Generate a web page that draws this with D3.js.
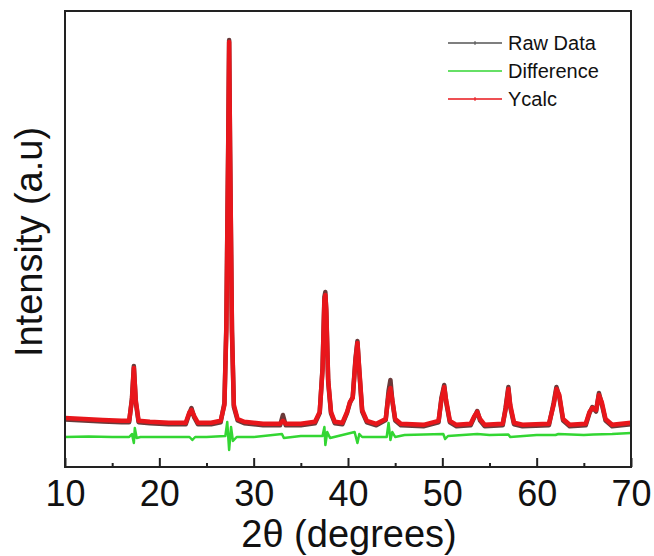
<!DOCTYPE html>
<html>
<head>
<meta charset="utf-8">
<script src="https://cdn.jsdelivr.net/npm/d3@7"></script>
<style>
  body { margin: 0; background: #fff; }
  .container { width: 654px; height: 556px; }
  text { font-family: "Liberation Sans", Arial, sans-serif; fill: #111; }
</style>
</head>
<body>
<div class="container"></div>
<script>
var WIDTH = 654, HEIGHT = 556;
var MARGIN = {left: 65, top: 11, right: 23, bottom: 89};
var INNER_WIDTH = WIDTH - MARGIN.left - MARGIN.right;
var INNER_HEIGHT = HEIGHT - MARGIN.top - MARGIN.bottom;

// 2theta positions and intensities (a.u.)
var twoTheta = [10,12,14,16,16.8,17.1,17.3,17.5,17.8,19,21,22.8,23.2,23.4,23.7,24.1,25.5,26.5,26.9,27.1,27.3,27.4,27.5,27.7,27.9,28.3,29,31,32.8,33.1,33.4,35,36.5,37,37.3,37.5,37.6,37.7,37.9,38.2,38.6,39.4,39.9,40.2,40.5,40.8,41,41.2,41.5,42,43,44,44.3,44.5,44.7,45,45.6,48,49.6,49.9,50.2,50.4,50.8,51.5,53,53.4,53.7,54,54.5,56.4,56.7,57,57.2,57.6,58.5,61.3,61.8,62.1,62.4,62.8,63.5,65.2,65.6,65.9,66.3,66.6,66.9,67.3,68,70];
var yCalc    = [490,480,470,462,462,670,990,670,462,452,442,442,550,570,510,442,442,462,620,1370,3170,4250,3170,1370,620,480,452,432,432,462,432,432,452,550,970,1670,1720,1570,870,550,452,442,550,650,690,1070,1240,970,570,462,432,480,720,790,670,480,432,422,462,670,800,670,462,422,432,510,550,480,422,432,570,780,620,442,422,432,620,780,720,480,422,432,550,590,570,720,650,480,422,442];
var rawData  = [475,465,455,447,447,690,1010,650,447,437,427,427,540,590,495,427,427,447,640,1400,3200,4270,3150,1350,600,465,437,417,417,520,417,417,437,540,990,1700,1750,1540,850,535,437,427,540,640,700,1090,1260,950,555,447,417,470,760,870,660,465,417,407,447,690,820,650,447,407,417,500,560,465,407,417,590,800,600,427,407,417,640,800,700,465,407,417,540,600,555,740,630,465,407,427];

var diffTheta = [10,12.5,15,16.8,17.1,17.3,17.4,17.6,18,20,23.2,23.5,23.8,25,27,27.2,27.4,27.6,27.8,28.2,30,33,33.2,35,37.3,37.5,37.6,37.8,38.1,40.7,41,41.2,41.5,44.1,44.3,44.5,44.7,45,46,50.1,50.3,50.6,53.7,55,57,57.2,60,62,62.3,65,66,68,70];
var difference = [300,305,300,300,330,240,390,290,300,300,300,270,300,300,310,450,170,400,260,300,300,330,290,310,310,400,220,350,290,350,240,330,300,300,440,270,350,300,320,330,280,310,330,320,325,300,320,320,330,320,325,330,340];

var xTicks = [10,20,30,40,50,60,70];
var xMinorTicks = [15,25,35,45,55,65];

var legendItems = [
    {name: "Raw Data", color: "#555"},
    {name: "Difference", color: "#33d633"},
    {name: "Ycalc", color: "#e8161b"}
];

var svg = d3.select('.container').append('svg')
            .attr('width', WIDTH)
            .attr('height', HEIGHT);

var xScale = d3.scaleLinear()
               .domain([10, 70])
               .range([0, INNER_WIDTH]);

var yScale = d3.scaleLinear()
               .domain([0, 4560])
               .range([INNER_HEIGHT, 0]);

var g = svg.append('g')
           .attr('transform', 'translate(' + MARGIN.left + ',' + MARGIN.top + ')');

var makeLine = function(xs){
    return d3.line()
             .x(function(d, i){ return xScale(xs[i]); })
             .y(function(d){ return yScale(d); });
};

g.append('path')
    .attr('d', makeLine(diffTheta)(difference))
    .attr('fill', 'none')
    .attr('stroke', '#33d633')
    .attr('stroke-width', 2.5)
    .attr('stroke-linejoin', 'round');

g.append('path')
    .attr('d', makeLine(twoTheta)(rawData))
    .attr('fill', 'none')
    .attr('stroke', '#6a3a3a')
    .attr('stroke-width', 4.5)
    .attr('stroke-linejoin', 'round');

g.append('path')
    .attr('d', makeLine(twoTheta)(yCalc))
    .attr('fill', 'none')
    .attr('stroke', '#e8161b')
    .attr('stroke-width', 4.5)
    .attr('stroke-linejoin', 'round');

// frame
g.append('rect')
    .attr('width', INNER_WIDTH)
    .attr('height', INNER_HEIGHT)
    .attr('fill', 'none')
    .attr('stroke', '#222')
    .attr('stroke-width', 2);

// x axis, ticks pointing inward
var xAxis = g.append('g')
             .attr('transform', 'translate(0,' + INNER_HEIGHT + ')')
             .call(d3.axisBottom(xScale).tickValues(xTicks).tickSizeInner(-9).tickSizeOuter(0).tickPadding(13).tickFormat(d3.format('d')));
xAxis.select('.domain').remove();
xAxis.selectAll('line').attr('stroke', '#222').attr('stroke-width', 2);
xAxis.selectAll('text')
     .style('font-family', '"Liberation Sans", Arial, sans-serif')
     .style('font-size', '36px')
     .attr('fill', '#111');

var xMinor = g.append('g')
              .attr('transform', 'translate(0,' + INNER_HEIGHT + ')')
              .call(d3.axisBottom(xScale).tickValues(xMinorTicks).tickSizeInner(-4).tickSizeOuter(0).tickFormat(''));
xMinor.select('.domain').remove();
xMinor.selectAll('line').attr('stroke', '#222').attr('stroke-width', 2);

svg.append('text')
    .attr('x', 349)
    .attr('y', 547)
    .attr('text-anchor', 'middle')
    .style('font-size', '38px')
    .text('2θ (degrees)');

svg.append('text')
    .attr('transform', 'translate(42,242) rotate(-90)')
    .attr('text-anchor', 'middle')
    .style('font-size', '38px')
    .text('Intensity (a.u)');

// legend
var legend = svg.selectAll('g.legend').data(legendItems)
    .enter()
    .append('g')
        .classed('legend', true)
        .attr('transform', function(d, i){ return 'translate(448,' + (43 + i * 28) + ')'; });

legend.append('line')
    .attr('x1', 0).attr('x2', 54)
    .attr('stroke', function(d){ return d.color; })
    .attr('stroke-width', 1.5);

legend.filter(function(d){ return d.name !== 'Difference'; })
    .append('line')
    .attr('x1', 27).attr('x2', 27)
    .attr('y1', -2).attr('y2', 2)
    .attr('stroke', function(d){ return d.color; })
    .attr('stroke-width', 1);

legend.append('text')
    .attr('x', 60)
    .attr('y', 7)
    .style('font-size', '20px')
    .text(function(d){ return d.name; });
</script>
</body>
</html>
